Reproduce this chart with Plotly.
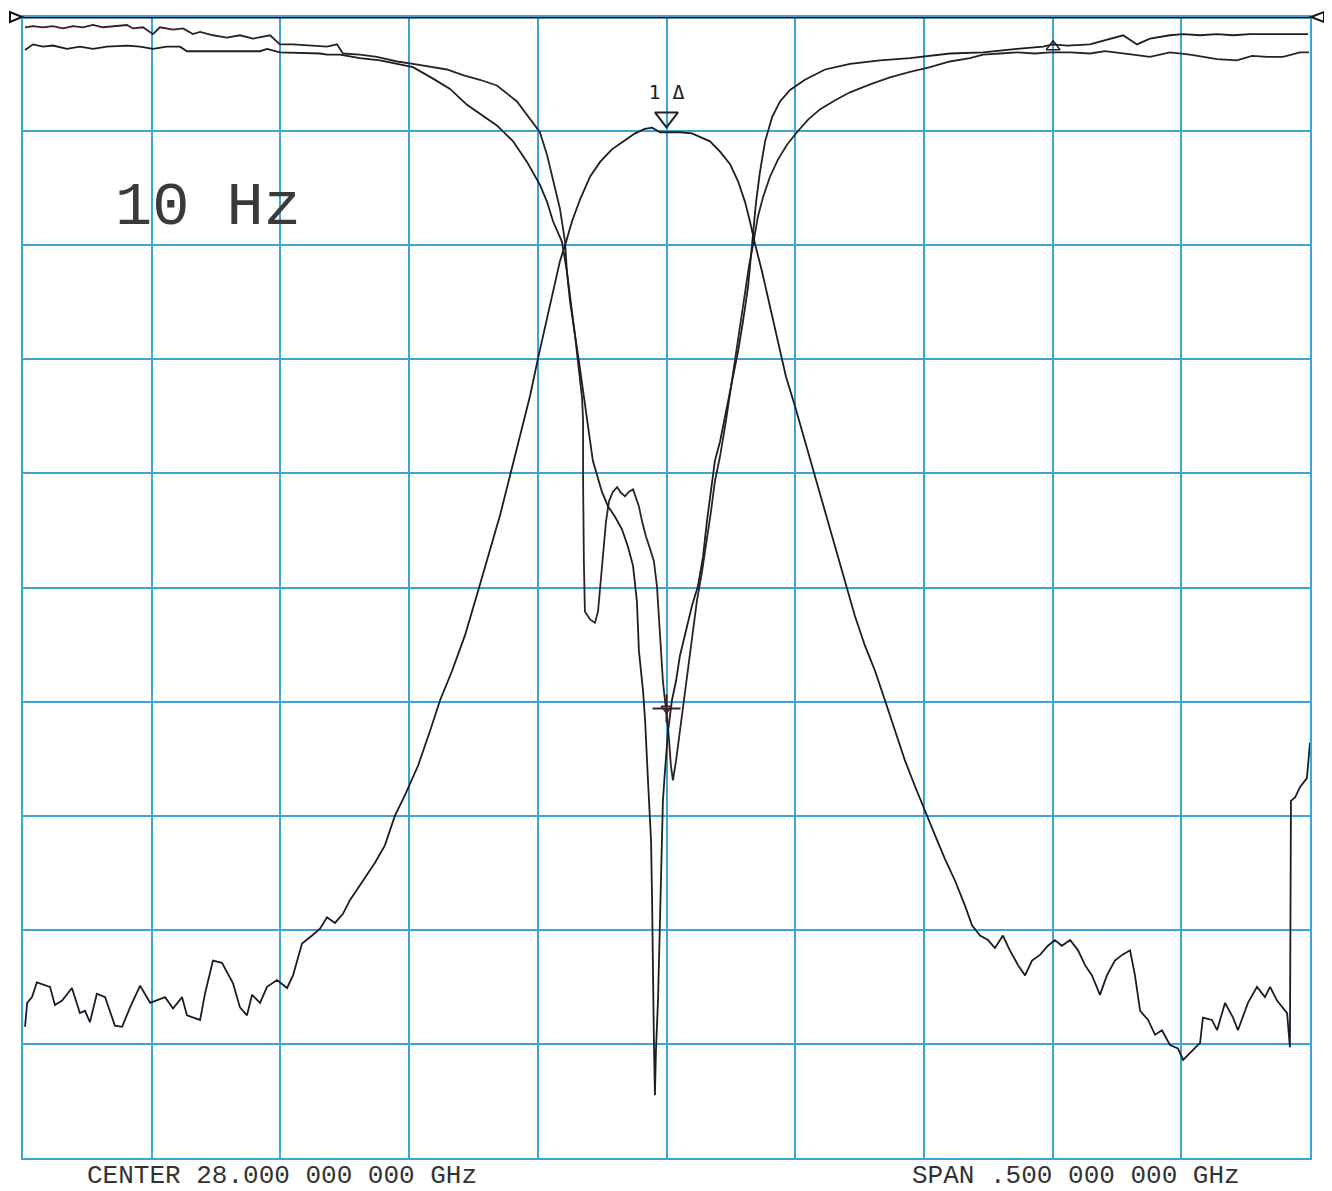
import plotly.graph_objects as go

# ---- instrument settings ----
CENTER_GHZ = 28.0
SPAN_GHZ = 0.5
REF_LEVEL_DB = 0.0
DB_PER_DIV = 10.0
N_DIV = 10

# ---- S21 (transmission) : frequency offset from center (MHz), level (dB) ----
s21_f = [-249.2,-248.4,-246.5,-244.6,-239.5,-237.6,-234.8,-231.0,-227.9,-225.9,-224.0,-221.3,-218.1,-214.3,
         -211.5,-208.4,-204.5,-200.6,-194.8,-191.7,-188.2,-186.3,-181.2,-179.3,-176.2,-172.7,-168.4,-165.7,
         -163.0,-161.0,-157.9,-155.2,-151.3,-147.4,-145.1,-141.6,-137.7,-134.6,-131.9,-128.8,-125.7,-123.0,
         -119.1,-113.2,-109.4,-105.5,-101.6,-96.5,-91.9,-88.0,-83.3,-78.3,-73.2,-68.6,-64.7,-60.8,-56.9,-53.0,
         -49.9,-46.8,-44.1,-41.4,-39.0,-36.7,-33.6,-29.7,-25.8,-21.2,-16.1,-12.2,-8.4,-5.6,-2.5,0.6,5.2,9.9,
         13.0,16.9,20.8,24.7,27.8,30.5,32.4,34.4,37.1,40.2,43.3,46.4,49.9,53.8,57.7,61.6,65.5,69.3,73.2,77.1,
         81.0,84.9,88.8,92.7,96.5,100.4,104.3,108.2,112.1,116.0,118.7,121.8,124.9,127.6,130.7,133.4,136.6,
         139.3,142.0,145.1,148.2,150.9,153.6,156.8,159.9,162.6,165.3,168.4,171.1,174.2,177.0,180.1,182.0,
         184.0,187.1,189.8,192.5,195.6,198.7,200.7,204.2,207.3,208.4,211.9,213.9,217.0,220.1,222.0,225.9,
         229.4,232.5,234.5,237.2,241.1,242.2,242.6,244.2,246.1,248.8,249.2,250.0]
s21_db = [-88.5,-86.4,-85.9,-84.6,-85.0,-86.6,-86.2,-85.1,-87.3,-87.1,-88.1,-85.6,-85.9,-88.4,
          -88.5,-86.8,-84.9,-86.4,-85.9,-86.9,-85.9,-87.5,-87.9,-85.6,-82.7,-82.9,-84.7,-86.8,
          -87.5,-85.7,-86.4,-85.0,-84.4,-85.1,-84.0,-81.2,-80.5,-79.9,-78.9,-79.4,-78.6,-77.4,
          -76.1,-74.1,-72.6,-70.0,-68.2,-65.6,-62.6,-59.9,-57.3,-54.2,-50.3,-46.8,-43.7,-40.2,-36.7,-33.2,
          -29.9,-26.7,-24.1,-21.4,-19.7,-17.9,-16.0,-14.0,-12.7,-11.6,-10.8,-10.2,-9.8,-9.7,-10.1,-10.1,-10.1,-10.2,
          -10.5,-10.9,-11.8,-12.9,-14.4,-16.2,-17.9,-19.9,-22.3,-25.4,-28.4,-31.5,-34.1,-37.2,-40.2,-43.3,-46.4,-49.4,-52.5,-55.1,
          -57.3,-59.9,-62.6,-65.2,-67.4,-69.6,-71.7,-73.8,-75.7,-77.9,-79.6,-80.5,-80.9,-81.6,-80.5,-81.8,-83.1,
          -84.0,-82.7,-82.2,-81.4,-80.9,-81.4,-80.9,-81.8,-83.1,-84.0,-85.7,-84.0,-82.7,-82.2,-81.8,-84.0,
          -87.1,-87.9,-89.2,-88.8,-90.1,-90.4,-91.4,-90.6,-89.9,-87.7,-87.9,-88.8,-86.4,-87.7,-88.8,-86.4,
          -85.0,-85.9,-85.0,-86.2,-87.3,-90.3,-68.7,-68.4,-67.5,-66.7,-65.4,-63.6]

# ---- reflection trace A ----
ra_f = [-249.2,-246.1,-242.2,-238.4,-234.5,-230.6,-226.7,-222.8,-218.9,-215.0,-209.6,-207.3,-203.4,-199.5,
        -196.8,-191.7,-187.8,-184.0,-181.2,-176.2,-170.8,-165.7,-160.7,-154.0,-150.2,-145.1,-138.5,-131.9,
        -128.0,-125.7,-119.1,-112.5,-104.7,-98.5,-85.3,-79.1,-72.5,-65.9,-58.1,-53.0,-49.2,-46.4,-44.1,-41.4,
        -39.4,-38.7,-37.5,-35.6,-34.4,-32.8,-32.4,-32.4,-32.1,-31.7,-29.7,-27.8,-26.6,-25.5,-24.7,-23.5,-22.3,
        -20.8,-19.2,-17.7,-16.1,-14.6,-13.0,-11.9,-10.7,-9.5,-8.0,-6.4,-4.9,-3.7,-2.9,-2.1,-1.4,-0.6,0.2,1.0,
        1.7,2.5,3.7,5.2,6.8,8.3,9.9,11.8,13.8,15.7,17.3,18.8,20.8,23.1,25.4,27.8,30.1,32.0,33.6,35.5,37.5,40.2,
        43.3,46.8,50.7,55.0,59.6,65.5,71.3,79.1,86.8,94.6,102.4,110.1,117.9,123.0,129.6,136.2,143.2,149.0,
        156.8,164.5,170.4,175.0,181.2,187.8,195.6,203.4,209.2,213.9,221.6,227.5,233.3,239.5,246.1,249.6]
ra_db = [-0.9,-0.8,-0.9,-0.8,-1.0,-0.8,-0.9,-0.7,-0.9,-0.8,-0.7,-1.0,-0.9,-1.5,
         -0.9,-1.1,-1.0,-1.5,-1.3,-1.6,-1.8,-1.6,-1.9,-1.6,-2.4,-2.4,-2.5,-2.6,
         -2.4,-3.2,-3.3,-3.5,-3.9,-4.1,-4.6,-5.1,-5.5,-6.0,-7.4,-8.9,-10.1,-12.1,-14.2,-16.8,
         -19.7,-22.3,-24.9,-27.8,-30.2,-33.4,-35.4,-40.7,-47.7,-52.1,-52.8,-53.1,-52.1,-49.4,-46.8,-44.2,-42.4,
         -41.6,-41.2,-41.7,-42.0,-41.6,-41.4,-42.2,-42.9,-44.2,-45.5,-46.6,-47.7,-49.9,-52.9,-55.6,-58.2,-59.9,-61.3,-63.4,
         -65.6,-66.9,-65.2,-62.6,-59.9,-57.3,-54.7,-51.2,-48.6,-45.9,-43.3,-40.7,-38.5,-35.4,-31.9,-28.4,-24.9,-21.9,-20.0,-17.5,-15.8,-14.0,
         -12.5,-11.2,-10.1,-9.0,-8.1,-7.3,-6.6,-5.9,-5.3,-4.8,-4.4,-3.9,-3.6,-3.3,-3.2,-3.1,-3.2,-3.1,
         -3.1,-3.2,-3.0,-3.1,-3.3,-3.5,-3.1,-3.3,-3.5,-3.7,-3.8,-3.4,-3.5,-3.5,-3.1,-3.1]

# ---- reflection trace B ----
rb_f = [-249.2,-246.1,-242.2,-238.4,-232.9,-227.9,-222.8,-217.4,-209.6,-204.6,-199.5,-194.1,-189.0,-186.3,
        -168.4,-157.9,-155.2,-150.2,-134.6,-131.9,-126.9,-119.1,-111.3,-98.5,-90.7,-84.1,-77.5,-69.7,-65.9,
        -59.6,-54.2,-49.2,-46.4,-44.1,-40.6,-38.7,-37.1,-35.6,-34.0,-32.4,-30.9,-28.6,-25.1,-22.7,-20.0,-17.3,
        -15.0,-13.0,-11.5,-10.7,-9.1,-8.3,-7.2,-6.0,-5.6,-5.3,-4.9,-4.5,-4.1,-3.3,-2.5,-2.1,-1.4,-0.6,0.6,2.1,
        3.7,5.2,7.6,9.9,12.2,14.2,15.7,17.3,18.8,20.8,23.1,25.4,27.8,29.7,31.7,33.2,34.8,36.3,38.3,41.0,44.1,
        48.0,53.8,61.6,71.3,82.9,94.6,110.1,123.0,136.2,146.3,150.2,155.6,164.5,172.3,177.4,182.8,187.8,195.6,
        200.7,207.3,213.9,220.1,226.7,234.5,242.2,249.2]
rb_db = [-2.9,-2.4,-2.6,-2.5,-2.8,-2.6,-2.8,-2.6,-2.5,-2.6,-2.8,-2.6,-2.6,-3.0,
         -3.0,-3.0,-2.8,-3.1,-3.2,-3.3,-3.3,-3.6,-3.8,-4.4,-5.4,-6.3,-7.7,-8.9,-9.5,
         -10.9,-12.7,-14.7,-16.2,-17.9,-19.7,-22.3,-25.4,-27.8,-30.2,-32.8,-35.2,-38.9,-41.6,-42.9,-43.8,-44.9,
         -46.4,-48.1,-51.2,-55.6,-59.1,-61.7,-66.9,-72.2,-77.4,-86.2,-89.7,-94.5,-90.6,-86.2,-79.2,-73.9,-68.7,-66.1,-62.6,-59.9,
         -58.2,-56.0,-53.8,-51.6,-49.9,-47.3,-44.2,-41.6,-38.9,-37.2,-34.6,-31.9,-29.3,-26.7,-23.6,-20.0,-16.2,-13.6,-10.9,-8.8,-7.4,
         -6.4,-5.5,-4.6,-4.1,-3.8,-3.6,-3.2,-3.1,-2.8,-2.6,-2.4,-2.5,-2.4,-1.9,-1.6,-2.4,-1.9,-1.6,
         -1.5,-1.6,-1.5,-1.6,-1.5,-1.5,-1.5,-1.5]

# ---- markers (offset MHz, level dB) ----
marker1 = (0.0, -8.8)      # "1Δ" marker above passband peak
marker2 = (0.0, -60.6)     # delta marker on reflection trace
marker3 = (150.2, -2.6)    # small marker on reflection trace

GRID_BLUE = "#3aa5d6"
INK = "#222222"

def ghz(offsets):
    return [CENTER_GHZ + v / 1000.0 for v in offsets]

x_lo = CENTER_GHZ - SPAN_GHZ / 2
x_hi = CENTER_GHZ + SPAN_GHZ / 2
y_lo = REF_LEVEL_DB - DB_PER_DIV * N_DIV

fig = go.Figure()

fig.add_trace(go.Scatter(x=ghz(ra_f), y=ra_db, mode="lines",
                         line=dict(color="#2d2124", width=1.8), hoverinfo="skip"))
fig.add_trace(go.Scatter(x=ghz(rb_f), y=rb_db, mode="lines",
                         line=dict(color="#1e1e1e", width=1.8), hoverinfo="skip"))
fig.add_trace(go.Scatter(x=ghz(s21_f), y=s21_db, mode="lines",
                         line=dict(color="#1a1c2c", width=1.8), hoverinfo="skip"))

# reference line on top graticule
fig.add_trace(go.Scatter(x=[x_lo, x_hi], y=[REF_LEVEL_DB, REF_LEVEL_DB], mode="lines",
                         line=dict(color="#111111", width=3), cliponaxis=False, hoverinfo="skip"))

# markers
fig.add_trace(go.Scatter(x=ghz([marker1[0]]), y=[marker1[1]], mode="markers+text",
                         marker=dict(symbol="triangle-down-open", size=20, color=INK,
                                     line=dict(width=2, color=INK)),
                         text=["1 Δ"], textposition="top center",
                         textfont=dict(family="DejaVu Sans Mono", size=20, color=INK),
                         cliponaxis=False, hoverinfo="skip"))
fig.add_trace(go.Scatter(x=ghz([marker2[0]]), y=[marker2[1]], mode="markers",
                         marker=dict(symbol="cross-thin-open", size=20, color="#3a2228",
                                     line=dict(width=2, color="#3a2228")),
                         hoverinfo="skip"))
fig.add_trace(go.Scatter(x=ghz([marker2[0]]), y=[marker2[1]], mode="markers",
                         marker=dict(symbol="triangle-down-open", size=9, color="#3a2228",
                                     line=dict(width=1.5, color="#3a2228")),
                         hoverinfo="skip"))
fig.add_trace(go.Scatter(x=ghz([marker3[0]]), y=[marker3[1]], mode="markers",
                         marker=dict(symbol="triangle-up-open", size=12, color=INK,
                                     line=dict(width=1.5, color=INK)),
                         hoverinfo="skip"))

axis_common = dict(showgrid=True, gridcolor=GRID_BLUE, gridwidth=2, zeroline=False,
                   showticklabels=False, ticks="", showline=True, linecolor=GRID_BLUE,
                   linewidth=2, mirror=True, fixedrange=True, layer="below traces")

# reference-position pointers at both ends of the top graticule line
ref_pointer = dict(type="path", xref="paper", yref="paper", xsizemode="pixel", ysizemode="pixel",
                   yanchor=1, line=dict(color="#111", width=2), fillcolor="white", layer="above")

fig.update_layout(
    width=1324, height=1183,
    margin=dict(l=15, r=22, t=7, b=33),
    paper_bgcolor="white", plot_bgcolor="white",
    showlegend=False,
    xaxis=dict(range=[x_lo, x_hi], tick0=x_lo, dtick=SPAN_GHZ / N_DIV, **axis_common),
    yaxis=dict(range=[y_lo, REF_LEVEL_DB], tick0=y_lo, dtick=DB_PER_DIV, **axis_common),
    shapes=[
        dict(ref_pointer, xanchor=0, path="M -13,-5 L -13,5 L -1,0 Z"),
        dict(ref_pointer, xanchor=1, path="M 14,-5 L 14,5 L 1,0 Z"),
    ],
    annotations=[
        dict(text="10 Hz", xref="paper", yref="paper", x=0.1435, y=0.833,
             xanchor="center", yanchor="middle", showarrow=False,
             font=dict(family="Liberation Mono", size=62, color="#3a3a3a")),
        dict(text="CENTER 28.000 000 000 GHz", xref="paper", yref="paper", x=0.048, y=0,
             xanchor="left", yanchor="top", yshift=-1, showarrow=False,
             font=dict(family="Liberation Mono", size=26, color="#333")),
        dict(text="SPAN .500 000 000 GHz", xref="paper", yref="paper", x=0.689, y=0,
             xanchor="left", yanchor="top", yshift=-1, showarrow=False,
             font=dict(family="Liberation Mono", size=26, color="#333")),
    ],
)

fig.write_html("out.html")
